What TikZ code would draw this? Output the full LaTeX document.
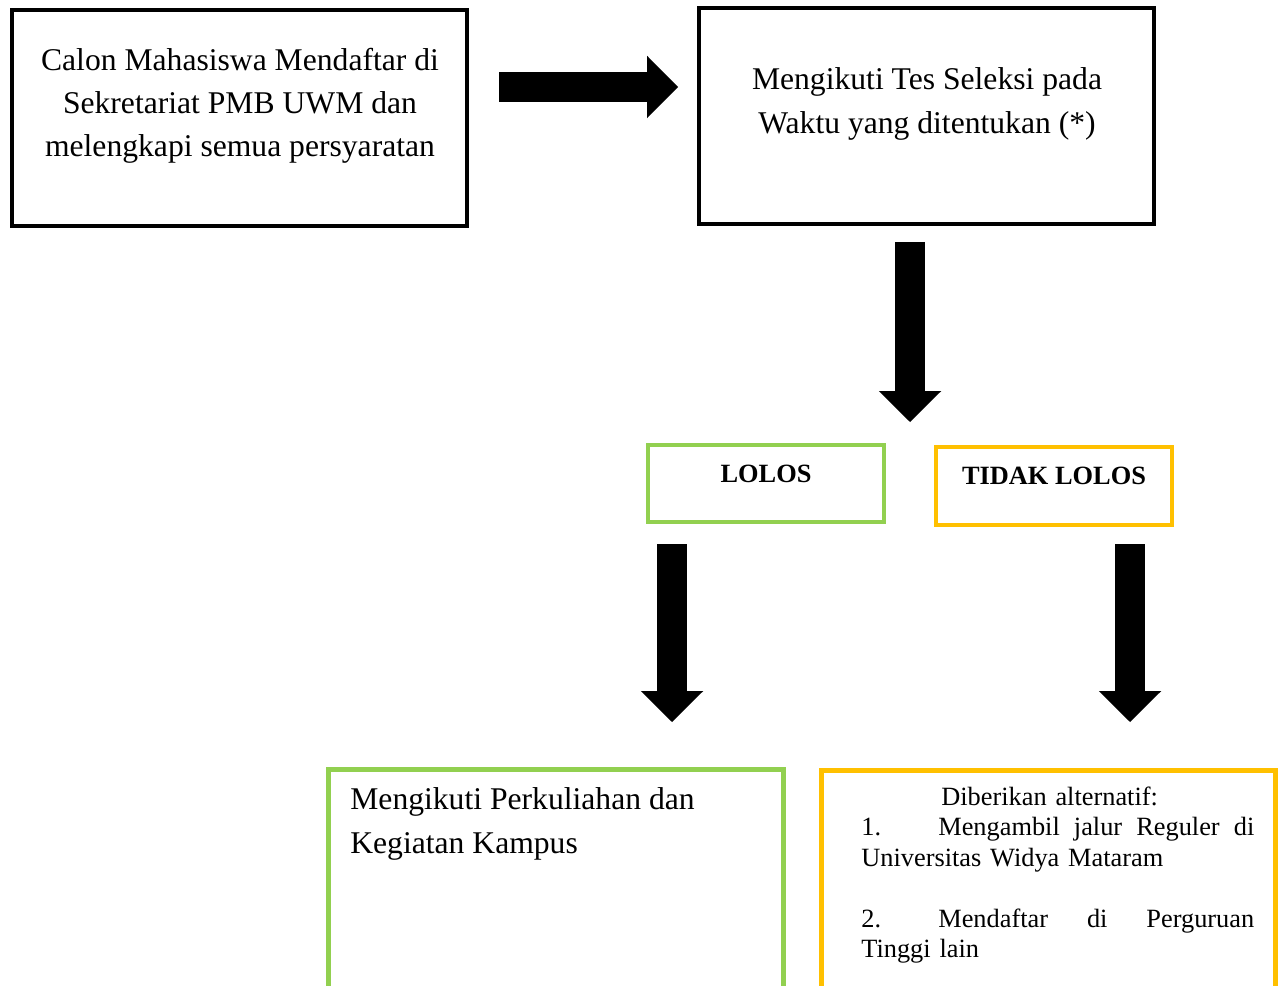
\documentclass[tikz,border=0pt]{standalone}
\usepackage{fontspec}
\setmainfont{Liberation Serif}
\usetikzlibrary{arrows.meta}
\definecolor{lolosgreen}{RGB}{146,208,80}
\definecolor{tidakorange}{RGB}{255,192,0}
\tikzset{
  stepbox/.style={shape=rectangle, draw=black, line width=0.08cm, inner sep=0pt, outer sep=0pt, minimum width=9.1cm, minimum height=4.32cm},
  resultbox/.style={shape=rectangle, line width=0.08cm, inner sep=0pt, outer sep=0pt, minimum width=4.72cm, minimum height=1.56cm},
  endbox/.style={shape=rectangle, line width=0.1cm, inner sep=0pt, outer sep=0pt, minimum width=9.1cm, minimum height=6cm},
  bigtext/.style={inner sep=0pt, font=\fontsize{18pt}{24.6pt}\selectfont},
  blockarrow/.style={line width=0.6cm, draw=black, -{Triangle[length=0.62cm, width=1.25cm, line width=0pt]}}
}
\begin{document}
\begin{tikzpicture}[x=0.02cm, y=-0.02cm]
\clip (0,0) rectangle (1281,986);
\node[stepbox] (calon) at (239.5,118) {};
\node[stepbox] (tes) at (926.5,116) {};
\node[resultbox, draw=lolosgreen] (lolos) at (766,483.5) {};
\node[resultbox, draw=tidakorange] (tidak) at (1054,486) {};
\node[endbox, draw=lolosgreen] (kuliah) at (556,919.5) {};
\node[endbox, draw=tidakorange] (alternatif) at (1048.5,920.5) {};
\node[bigtext, align=center] (calontext) at (240,106) {Calon Mahasiswa Mendaftar di\\Sekretariat PMB UWM dan\\melengkapi semua persyaratan};
\node[bigtext, align=center, font=\fontsize{18pt}{25.2pt}\selectfont] (testext) at (927,104) {Mengikuti Tes Seleksi pada\\Waktu yang ditentukan (*)};
\node[inner sep=0pt, font=\fontsize{15pt}{18pt}\selectfont\bfseries] (lolostext) at (766,474) {LOLOS};
\node[inner sep=0pt, font=\fontsize{15pt}{18pt}\selectfont\bfseries] (tidaktext) at (1054,476) {TIDAK LOLOS};
\node[bigtext, align=left, anchor=west] (kuliahtext) at (350,824) {Mengikuti Perkuliahan dan\\Kegiatan Kampus};
\node[inner sep=0pt, anchor=west, text width=7.86cm, align=left, font=\fontsize{15pt}{17.3pt}\selectfont] (alternatiftext) at (861,875) {\hspace*{1.6cm}Diberikan alternatif:\\
\makebox[1.54cm][l]{1.}Mengambil\hfill jalur\hfill Reguler\hfill di\\
Universitas Widya Mataram\\[17.3pt]
\makebox[1.54cm][l]{2.}Mendaftar\hfill di\hfill Perguruan\\
Tinggi lain};
\coordinate (r1) at (499,87);
\coordinate (r2) at (678,87);
\coordinate (d1) at (910,242);
\coordinate (d2) at (910,422);
\coordinate (g1) at (672,544);
\coordinate (g2) at (672,722);
\coordinate (o1) at (1130,544);
\coordinate (o2) at (1130,722);
\draw [blockarrow] (r1) -- (r2);
\draw [blockarrow] (d1) -- (d2);
\draw [blockarrow] (g1) -- (g2);
\draw [blockarrow] (o1) -- (o2);
\end{tikzpicture}
\end{document}
